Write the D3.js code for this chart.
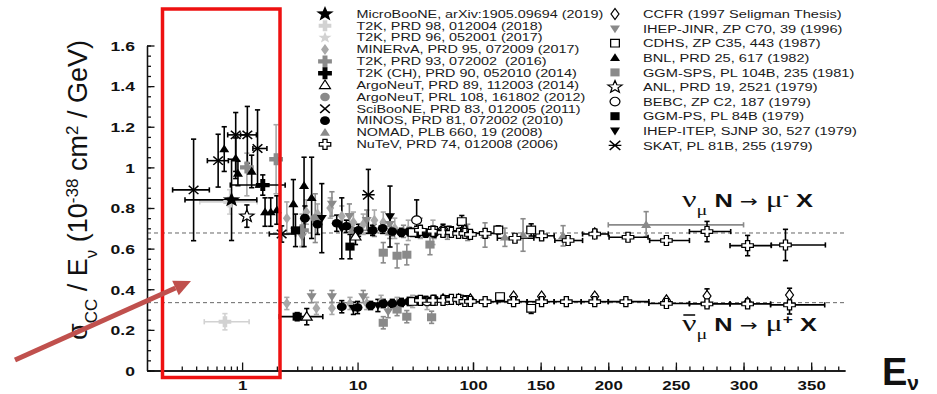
<!DOCTYPE html>
<html>
<head>
<meta charset="utf-8">
<title>Inclusive CC cross sections</title>
<script src="https://cdn.jsdelivr.net/npm/d3@7/dist/d3.min.js"></script>
<style>
  html, body { margin: 0; padding: 0; background: #fff; }
  svg { display: block; font-family: "Liberation Sans", Arial, Helvetica, sans-serif; }
</style>
</head>
<body>
<svg id="chart" width="937" height="394"></svg>
<script>
// sigma_CC / E_nu per nucleon (1e-38 cm^2 / GeV) against E_nu (GeV).
// Each point: [E, value, error, E_low, E_high]; error may be [down, up].

const microbooneNu = [[0.81, 0.84, 0.2, 0.32, 1.34]];
const t2k2018Nu = [[0.78, 0.83, 0.06, 0.43, 1.35]];
const t2k2018NuBar = [[0.71, 0.24, 0.04, 0.47, 1.15]];
const minervaNu = [[2.44, 0.75, 0.08], [3.6, 0.78, 0.06], [4.5, 0.77, 0.05], [5.8, 0.80, 0.05], [7.3, 0.76, 0.05],
  [9.2, 0.73, 0.05], [11.2, 0.72, 0.05], [14, 0.74, 0.05], [16.7, 0.73, 0.05], [21, 0.70, 0.05],
  [27.5, 0.69, 0.05], [35, 0.70, 0.05], [45, 0.68, 0.06]];
const minervaNuBar = [[2.44, 0.33, 0.03], [4.4, 0.306, 0.03], [6.0, 0.306, 0.03], [8.6, 0.33, 0.03],
  [12, 0.33, 0.03], [16, 0.34, 0.03], [22, 0.33, 0.03], [30, 0.34, 0.03], [40, 0.33, 0.03]];
const t2k2016Nu = [[1.1, 1.0, [0.14, 0.07]], [1.97, 1.04, 0.17], [3.3, 0.69, 0.08]];
const t2kChNu = [[1.51, 0.913, 0.05, 0.79, 2.36]];
const argoneut2014Nu = [[9.6, 0.66, 0.04]];
const argoneut2014NuBar = [[3.63, 0.265, 0.04]];
const argoneut2012Nu = [[4.3, 0.75, 0.12]];
const scibooneNu = [[0.38, 0.889, 0.25, 0.25, 0.52], [0.62, 1.033, 0.13, 0.50, 0.76], [0.88, 1.16, [0.18, 0.11], 0.75, 1.1],
  [1.11, 1.16, 0.14, 0.97, 1.33], [1.36, 1.093, 0.19, 1.24, 1.64], [2.2, 0.672, 0.04, 1.72, 2.9]];
const minosNu = [[3.5, 0.75, 0.06], [4.5, 0.72, 0.05], [6.6, 0.725, 0.04], [8, 0.71, 0.03], [10.2, 0.69, 0.03],
  [13.5, 0.69, 0.025], [16.5, 0.70, 0.025], [20, 0.684, 0.02], [24, 0.68, 0.02], [28, 0.684, 0.02],
  [33, 0.676, 0.02], [39, 0.676, 0.02], [46, 0.676, 0.02]];
const minosNuBar = [[7.3, 0.314, 0.03], [10, 0.31, 0.03], [13, 0.32, 0.02], [16.7, 0.33, 0.02], [20, 0.33, 0.02],
  [24, 0.335, 0.02], [28, 0.34, 0.02], [33, 0.345, 0.02], [39, 0.345, 0.02], [46, 0.35, 0.02]];
const nomadNu = [[9, 0.69, 0.03], [14, 0.69, 0.03], [19, 0.68, 0.03], [25, 0.685, 0.03], [35, 0.685, 0.03],
  [46, 0.68, 0.03], [60, 0.676, 0.03], [75, 0.69, 0.03], [90, 0.68, 0.04], [108.9, 0.667, 0.06],
  [123.6, 0.656, 0.045], [137, 0.667, 0.08], [166.6, 0.663, 0.05], [228, 0.717, [0.058, 0.065], 200, 300]];
const nutevNu = [[35, 0.69, 0.02], [45, 0.685, 0.02], [55, 0.68, 0.02], [65, 0.68, 0.02], [75, 0.675, 0.02],
  [85, 0.675, 0.02], [95, 0.67, 0.02],
  [109, 0.675, 0.02, 100, 118], [131, 0.651, 0.02, 118, 145], [150.7, 0.663, 0.02, 145, 160],
  [170.3, 0.64, 0.02, 160.5, 181], [190, 0.672, 0.02, 181, 200], [214.6, 0.656, 0.02, 200.6, 229.4],
  [243, 0.64, 0.02, 230.6, 260], [273, 0.684, 0.05, 260, 290.5], [303, 0.615, 0.05, 290, 320.5],
  [331, 0.618, 0.077, 320.5, 360.5]];
const nutevNuBar = [[35, 0.345, 0.01], [45, 0.345, 0.01], [55, 0.345, 0.01], [65, 0.35, 0.01], [75, 0.35, 0.01],
  [85, 0.34, 0.01], [95, 0.34, 0.01],
  [109, 0.339, 0.01, 100, 118], [130, 0.339, 0.01, 118, 140], [150.7, 0.339, 0.01, 140, 160],
  [169, 0.339, 0.01, 160, 180], [190, 0.339, 0.01, 180, 200], [213, 0.339, 0.01, 200, 230],
  [243, 0.33, 0.015, 230, 260], [273, 0.328, 0.015, 260, 290], [303, 0.328, 0.015, 290, 320],
  [334, 0.323, 0.045, 320, 360]];
const ccfrNu = [[55, 0.69, 0.02], [85, 0.69, 0.02], [190, 0.675, 0.02]];
const ccfrNuBar = [[55, 0.35, 0.01], [75, 0.35, 0.01], [95, 0.35, 0.01], [130, 0.364, 0.012], [150.7, 0.364, 0.012],
  [190, 0.364, 0.012], [243, 0.345, 0.012], [273, 0.367, 0.035], [303, 0.335, 0.015], [334, 0.372, 0.033]];
const ihepJinrNu = [[3.3, 0.66, 0.05], [6.0, 0.82, 0.06], [8.5, 0.76, 0.06], [12, 0.74, 0.05], [19, 0.72, 0.05]];
const ihepJinrNuBar = [[4.0, 0.364, 0.03], [6.0, 0.364, 0.03], [11.2, 0.364, 0.03], [18.4, 0.29, 0.03]];
const cdhsNu = [[30, 0.68, 0.02], [45, 0.69, 0.02], [62, 0.69, 0.02], [80, 0.733, 0.03], [118.7, 0.692, 0.02], [143, 0.692, 0.03]];
const cdhsNuBar = [[30, 0.34, 0.01], [45, 0.34, 0.01], [62, 0.35, 0.01], [85, 0.35, 0.01], [120, 0.364, 0.015], [143, 0.306, [0.025, 0.01]]];
const bnlNu = [[0.70, 1.09, 0.11], [0.88, 1.045, 0.1], [0.92, 0.97, 0.06], [1.21, 0.98, 0.08], [1.58, 0.78, 0.07],
  [1.77, 0.78, 0.07], [2.0, 0.79, 0.07], [2.78, 0.82, 0.12], [3.44, 0.91, [0.3, 0.14]], [4.0, 0.85, 0.2]];
const ggmSpsNu = [[16.7, 0.58, 0.05], [22, 0.565, 0.06], [26.7, 0.57, 0.05], [42.4, 0.62, 0.05]];
const ggmSpsNuBar = [[16.7, 0.235, 0.03], [22, 0.30, 0.03], [26.7, 0.265, 0.03], [43.8, 0.262, 0.03]];
const anlNu = [[1.1, 0.76, 0.055]];
const bebcNu = [[32.5, 0.74, [0.03, 0.1]], [55, 0.69, 0.03]];
const bebcNuBar = [[40, 0.34, 0.01], [60, 0.345, 0.01], [80, 0.35, 0.01]];
const ggmPsNu = [[2.9, 0.69, 0.08], [8.6, 0.61, 0.06]];
const ggmPsNuBar = [[3.0, 0.265, 0.02, 2.1, 5.0]];
const ihepItepNu = [[4.9, 0.75, 0.17], [7.3, 0.70, 0.15], [19.1, 0.758, 0.15]];
const ihepItepNuBar = [[9.2, 0.306, 0.03], [15, 0.32, 0.03]];
const skatNu = [[12.4, 0.865, [0.19, 0.125]]];

// isoscalar reference values
const nuAverage = 0.677;
const nuBarAverage = 0.334;

// axis ticks
const yTickValues = [0, 0.2, 0.4, 0.6, 0.8, 1, 1.2, 1.4, 1.6];
const yTickLabels = ["0", "0.2", "0.4", "0.6", "0.8", "1", "1.2", "1.4", "1.6"];
const xLogMajor = [1, 10, 100];
const xLogLabels = ["1", "10", "100"];
const xLinMajor = [150, 200, 250, 300, 350];
const xLinLabels = ["150", "200", "250", "300", "350"];

// legend text
const legendLeft = ["MicroBooNE, arXiv:1905.09694 (2019)", "T2K, PRD 98, 012004 (2018)", "T2K, PRD 96, 052001 (2017)",
  "MINERvA, PRD 95, 072009 (2017)", "T2K, PRD 93, 072002  (2016)", "T2K (CH), PRD 90, 052010 (2014)",
  "ArgoNeuT, PRD 89, 112003 (2014)", "ArgoNeuT, PRL 108, 161802 (2012)", "SciBooNE, PRD 83, 012005 (2011)",
  "MINOS, PRD 81, 072002 (2010)", "NOMAD, PLB 660, 19 (2008)", "NuTeV, PRD 74, 012008 (2006)"];
const legendRight = ["CCFR (1997 Seligman Thesis)", "IHEP-JINR, ZP C70, 39 (1996)", "CDHS, ZP C35, 443 (1987)",
  "BNL, PRD 25, 617 (1982)", "GGM-SPS, PL 104B, 235 (1981)", "ANL, PRD 19, 2521 (1979)", "BEBC, ZP C2, 187 (1979)",
  "GGM-PS, PL 84B (1979)", "IHEP-ITEP, SJNP 30, 527 (1979)", "SKAT, PL 81B, 255 (1979)"];
const legendLeftKeys = ["microboone", "t2k18", "t2k17", "minerva", "t2k16", "t2kch", "argo14", "argo12", "sciboone", "minos", "nomad", "nutev"];
const legendRightKeys = ["ccfr", "ihepjinr", "cdhs", "bnl", "ggmsps", "anl", "bebc", "ggmps", "ihepitep", "skat"];

// ---------- marker styles ----------
const GRAY = "#8a8a8a", MGRAY = "#a8a8a8", LGRAY = "#d2d2d2";
const styles = {
  microboone: { shape: "star", r: 8, fill: "#000", stroke: "none", bar: "#000" },
  t2k18: { shape: "plus", r: 5.5, fill: LGRAY, stroke: "none", bar: LGRAY },
  t2k17: { shape: "star", r: 6, fill: LGRAY, stroke: "none", bar: LGRAY },
  minerva: { shape: "diamond", r: 4.6, fill: MGRAY, stroke: "none", bar: MGRAY },
  t2k16: { shape: "plus", r: 6, fill: GRAY, stroke: "none", bar: MGRAY },
  t2kch: { shape: "plus", r: 6, fill: "#000", stroke: "none", bar: "#000" },
  argo14: { shape: "triUp", r: 5, fill: "#fff", stroke: "#000", bar: "#000" },
  argo12: { shape: "circle", r: 4.2, fill: GRAY, stroke: "none", bar: GRAY },
  sciboone: { shape: "times", r: 4.2, fill: "none", stroke: "#000", bar: "#000" },
  minos: { shape: "circle", r: 4.3, fill: "#000", stroke: "none", bar: "#000" },
  nomad: { shape: "triUp", r: 4.6, fill: GRAY, stroke: "none", bar: GRAY },
  nutev: { shape: "plus", r: 5, fill: "#fff", stroke: "#000", bar: "#000" },
  ccfr: { shape: "diamond", r: 4.6, fill: "#fff", stroke: "#000", bar: "#000" },
  ihepjinr: { shape: "triDown", r: 4.6, fill: GRAY, stroke: "none", bar: GRAY },
  cdhs: { shape: "square", r: 3.8, fill: "#fff", stroke: "#000", bar: "#000" },
  bnl: { shape: "triUp", r: 4.6, fill: "#000", stroke: "none", bar: "#000" },
  ggmsps: { shape: "square", r: 4, fill: GRAY, stroke: "none", bar: GRAY },
  anl: { shape: "star", r: 6.5, fill: "#fff", stroke: "#000", bar: "#000" },
  bebc: { shape: "circle", r: 4.3, fill: "#fff", stroke: "#000", bar: "#000" },
  ggmps: { shape: "square", r: 4, fill: "#000", stroke: "none", bar: "#000" },
  ihepitep: { shape: "triDown", r: 4.6, fill: "#000", stroke: "none", bar: "#000" },
  skat: { shape: "asterisk", r: 4.6, fill: "none", stroke: "#000", bar: "#000" }
};

// drawing order: light and grey sets first, black and open ones on top
const series = [
  ["t2k18", t2k2018Nu], ["t2k18", t2k2018NuBar],
  ["minerva", minervaNu], ["minerva", minervaNuBar],
  ["ggmsps", ggmSpsNu], ["ggmsps", ggmSpsNuBar],
  ["ihepjinr", ihepJinrNu], ["ihepjinr", ihepJinrNuBar],
  ["nomad", nomadNu], ["argo12", argoneut2012Nu], ["t2k16", t2k2016Nu],
  ["minos", minosNu], ["minos", minosNuBar],
  ["bnl", bnlNu], ["ggmps", ggmPsNu], ["ggmps", ggmPsNuBar],
  ["ihepitep", ihepItepNu], ["ihepitep", ihepItepNuBar],
  ["skat", skatNu], ["sciboone", scibooneNu], ["t2kch", t2kChNu],
  ["cdhs", cdhsNu], ["cdhs", cdhsNuBar], ["bebc", bebcNu], ["bebc", bebcNuBar],
  ["ccfr", ccfrNu], ["ccfr", ccfrNuBar], ["nutev", nutevNu], ["nutev", nutevNuBar],
  ["argo14", argoneut2014Nu], ["argo14", argoneut2014NuBar], ["anl", anlNu],
  ["microboone", microbooneNu]
];

// ---------- scales ----------
const svg = d3.select("#chart");
const xLog = d3.scaleLog().domain([0.15, 100]).range([147, 473]);
const xLin = d3.scaleLinear().domain([100, 375]).range([473, 845]);
const xPos = E => (E <= 100 ? xLog(E) : xLin(E));
const y = d3.scaleLinear().domain([0, 1.6]).range([370.5, 45.5]);
const STRETCH = 1.3;   // glyphs are drawn slightly wide

function shapePath(shape, r) {
  switch (shape) {
    case "circle":
      return `M${-r},0A${r},${r} 0 1,0 ${r},0A${r},${r} 0 1,0 ${-r},0Z`;
    case "square":
      return `M${-r},${-r}H${r}V${r}H${-r}Z`;
    case "diamond":
      return `M0,${-r * 1.2}L${r * 0.75},0L0,${r * 1.2}L${-r * 0.75},0Z`;
    case "triUp":
      return `M0,${-r}L${r * 0.95},${r * 0.7}L${-r * 0.95},${r * 0.7}Z`;
    case "triDown":
      return `M0,${r}L${r * 0.95},${-r * 0.7}L${-r * 0.95},${-r * 0.7}Z`;
    case "plus": {
      const a = r * 0.36;
      return `M${-a},${-r}H${a}V${-a}H${r}V${a}H${a}V${r}H${-a}V${a}H${-r}V${-a}H${-a}Z`;
    }
    case "star": {
      let d = "";
      for (let i = 0; i < 10; i++) {
        const rr = i % 2 === 0 ? r : r * 0.42;
        const ang = -Math.PI / 2 + i * Math.PI / 5;
        d += (i === 0 ? "M" : "L") + (rr * Math.cos(ang)).toFixed(2) + "," + (rr * Math.sin(ang)).toFixed(2);
      }
      return d + "Z";
    }
    case "times":
      return `M${-r},${-r}L${r},${r}M${r},${-r}L${-r},${r}`;
    case "asterisk":
      return `M${-r},${-r}L${r},${r}M${r},${-r}L${-r},${r}M${-r * 1.2},0H${r * 1.2}`;
  }
  return "";
}

function drawMarker(g, st, cx, cy) {
  const stroked = st.shape === "times" || st.shape === "asterisk";
  g.append("path")
    .attr("d", shapePath(st.shape, st.r))
    .attr("transform", `translate(${cx},${cy}) scale(1.15,1)`)
    .attr("fill", st.fill)
    .attr("stroke", st.stroke)
    .attr("stroke-width", stroked ? 1.4 : (st.stroke === "none" ? 0 : 1.1));
}

// ---------- reference lines ----------
const refG = svg.append("g");
[nuAverage, nuBarAverage].forEach(v => {
  refG.append("line")
    .attr("x1", 147).attr("x2", 845)
    .attr("y1", y(v)).attr("y2", y(v))
    .attr("stroke", "#666").attr("stroke-width", 1)
    .attr("stroke-dasharray", "4,3");
});

// ---------- data ----------
const barG = svg.append("g");
const markG = svg.append("g");
const cap = 2.6;
series.forEach(([key, pts]) => {
  const st = styles[key];
  pts.forEach(p => {
    const [E, v, err, lo, hi] = p;
    const cx = xPos(E), cy = y(v);
    const gb = barG.append("g").attr("stroke", st.bar).attr("stroke-width", 1.6).attr("fill", "none");
    if (lo != null && hi != null) {
      const x0 = xPos(lo), x1 = xPos(hi);
      gb.append("line").attr("x1", x0).attr("x2", x1).attr("y1", cy).attr("y2", cy);
      gb.append("line").attr("x1", x0).attr("x2", x0).attr("y1", cy - cap).attr("y2", cy + cap);
      gb.append("line").attr("x1", x1).attr("x2", x1).attr("y1", cy - cap).attr("y2", cy + cap);
    }
    if (err) {
      const [ed, eu] = Array.isArray(err) ? err : [err, err];
      const y0 = y(v - ed), y1 = y(v + eu);
      gb.append("line").attr("x1", cx).attr("x2", cx).attr("y1", y0).attr("y2", y1);
      gb.append("line").attr("x1", cx - cap).attr("x2", cx + cap).attr("y1", y0).attr("y2", y0);
      gb.append("line").attr("x1", cx - cap).attr("x2", cx + cap).attr("y1", y1).attr("y2", y1);
    }
    drawMarker(markG, st, cx, cy);
  });
});

// ---------- axes ----------
const axisG = svg.append("g").attr("class", "axes");
const yMinor = d3.range(0, 33).map(i => i * 0.05);
axisG.append("g").attr("transform", "translate(147,0)")
  .call(d3.axisLeft(y).tickValues(yMinor).tickSize(-4).tickSizeOuter(0).tickFormat(""));
const yAxis = axisG.append("g").attr("transform", "translate(147,0)")
  .call(d3.axisLeft(y).tickValues(yTickValues).tickSize(-7.5).tickSizeOuter(0)
    .tickPadding(12).tickFormat((d, i) => yTickLabels[i]));
yAxis.selectAll("text")
  .attr("x", -12 / STRETCH).attr("dy", "0.36em")
  .attr("transform", `scale(${STRETCH},1)`)
  .style("font-size", "13.5px").style("font-weight", "bold").style("fill", "#111");

const logMinor = [];
[0.1, 1, 10].forEach(dec => { for (let m = 2; m <= 9; m++) { const v = m * dec; if (v >= 0.15) logMinor.push(v); } });
const linMinor = d3.range(110, 375, 10);
axisG.append("g").attr("transform", "translate(0,370.5)")
  .call(d3.axisBottom(xLog).tickValues(logMinor).tickSize(-4).tickSizeOuter(0).tickFormat(""));
axisG.append("g").attr("transform", "translate(0,370.5)")
  .call(d3.axisBottom(xLin).tickValues(linMinor).tickSize(-4).tickSizeOuter(0).tickFormat(""));
const xa1 = axisG.append("g").attr("transform", "translate(0,370.5)")
  .call(d3.axisBottom(xLog).tickValues(xLogMajor).tickSize(-8).tickSizeOuter(0)
    .tickPadding(10).tickFormat((d, i) => xLogLabels[i]));
const xa2 = axisG.append("g").attr("transform", "translate(0,370.5)")
  .call(d3.axisBottom(xLin).tickValues([100].concat(xLinMajor)).tickSize(-8).tickSizeOuter(0)
    .tickPadding(10).tickFormat((d, i) => (i === 0 ? "" : xLinLabels[i - 1])));
[xa1, xa2].forEach(a => a.selectAll("text")
  .attr("transform", `scale(${STRETCH},1)`).attr("dy", "0.72em")
  .style("font-size", "13px").style("font-weight", "bold").style("fill", "#111"));
axisG.selectAll(".domain, .tick line").attr("stroke", "#111").attr("stroke-width", 1.3);

// y-axis title
const yt = svg.append("text")
  .attr("transform", "translate(87,190) rotate(-90)")
  .attr("text-anchor", "middle")
  .style("font-size", "27px").style("fill", "#111");
yt.append("tspan").text("σ");
yt.append("tspan").attr("baseline-shift", "sub").style("font-size", "17px").text("CC");
yt.append("tspan").text(" / E");
yt.append("tspan").attr("baseline-shift", "sub").style("font-size", "17px").text("ν");
yt.append("tspan").text(" (10");
yt.append("tspan").attr("baseline-shift", "super").style("font-size", "17px").text("-38");
yt.append("tspan").text(" cm");
yt.append("tspan").attr("baseline-shift", "super").style("font-size", "17px").text("2");
yt.append("tspan").text(" / GeV)");

// x-axis title
const xt = svg.append("text").attr("x", 882).attr("y", 385)
  .style("font-size", "38px").style("font-weight", "bold").style("fill", "#111");
xt.append("tspan").text("E");
xt.append("tspan").attr("dy", 5).style("font-size", "21px").text("ν");

// ---------- process labels ----------
function processLabel(x0, yb, bar, sign, targetW) {
  const outer = svg.append("g").attr("transform", `translate(${x0},${yb})`);
  const inner = outer.append("g");
  const t = inner.append("text").style("font-size", "19px").style("fill", "#111");
  t.append("tspan").style("font-family", "'Liberation Serif', serif").style("font-size", "24px").text("ν");
  t.append("tspan").attr("baseline-shift", "sub").style("font-family", "'Liberation Serif', serif")
    .style("font-size", "15px").text("μ");
  t.append("tspan").style("font-weight", "bold").text(" N ");
  t.append("tspan").style("font-family", "'DejaVu Sans', sans-serif").style("font-size", "16px").text("→");
  t.append("tspan").style("font-family", "'Liberation Serif', serif").style("font-size", "24px").text("  μ");
  t.append("tspan").attr("baseline-shift", "super").style("font-size", "13px").style("font-weight", "bold").text(sign);
  t.append("tspan").style("font-weight", "bold").text(" X");
  const w = t.node().getComputedTextLength();
  inner.attr("transform", `scale(${targetW / w},1)`);
  if (bar) {
    const ext = t.node().getExtentOfChar(0);
    inner.append("line")
      .attr("x1", ext.x + 1).attr("x2", ext.x + ext.width - 1)
      .attr("y1", -16).attr("y2", -16)
      .attr("stroke", "#111").attr("stroke-width", 1.6);
  }
}
processLabel(682, 207, false, "-", 131);
processLabel(682, 331, true, "+", 135);

// ---------- legend ----------
function legendColumn(labels, keys, symX, txtX, y0, dy, fontPx, targetW, widestIdx) {
  const g = svg.append("g");
  const probe = g.append("text").style("font-size", fontPx + "px").text(labels[widestIdx]);
  const sx = targetW / probe.node().getComputedTextLength();
  probe.remove();
  labels.forEach((lab, i) => {
    const cy = y0 + i * dy;
    drawMarker(g, styles[keys[i]], symX, cy);
    g.append("text")
      .attr("transform", `translate(${txtX},${cy + fontPx * 0.36}) scale(${sx},1)`)
      .style("font-size", fontPx + "px").style("fill", "#1a1a1a")
      .style("white-space", "pre")
      .text(lab);
  });
}
legendColumn(legendLeft, legendLeftKeys, 325, 356.5, 14, 11.85, 10.5, 247, 0);
legendColumn(legendRight, legendRightKeys, 615, 643, 14, 14.6, 11.5, 214, 8);

// ---------- highlight box and arrow ----------
svg.append("rect")
  .attr("x", 162.5).attr("y", 9).attr("width", 117.5).attr("height", 368.5)
  .attr("fill", "none").attr("stroke", "#ee1111").attr("stroke-width", 3.5);

const a0 = [15, 360], a1 = [191, 281];
const ang = Math.atan2(a1[1] - a0[1], a1[0] - a0[0]);
const headL = 17, headW = 8;
const bx = a1[0] - headL * Math.cos(ang), by = a1[1] - headL * Math.sin(ang);
const arrowG = svg.append("g");
arrowG.append("line").attr("x1", a0[0]).attr("y1", a0[1]).attr("x2", bx).attr("y2", by)
  .attr("stroke", "#c0504d").attr("stroke-width", 5);
arrowG.append("path")
  .attr("d", `M${a1[0]},${a1[1]}L${bx + headW * Math.sin(ang)},${by - headW * Math.cos(ang)}L${bx - headW * Math.sin(ang)},${by + headW * Math.cos(ang)}Z`)
  .attr("fill", "#c0504d");
</script>
</body>
</html>
